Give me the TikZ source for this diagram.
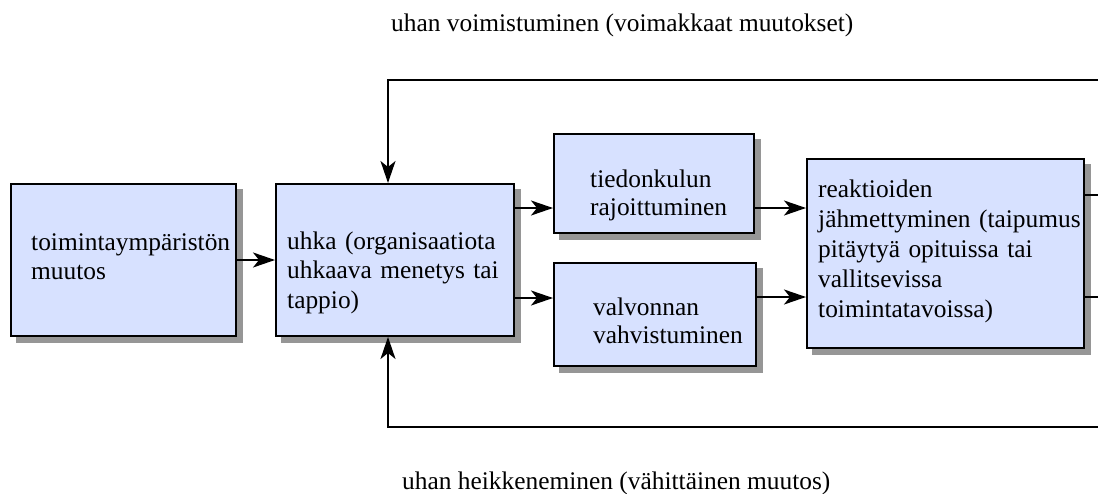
\documentclass[tikz,border=0pt]{standalone}
\usepackage{fontspec}
\setmainfont{Liberation Serif}
\usetikzlibrary{arrows.meta}
\definecolor{boxfill}{RGB}{215,225,255}
\definecolor{shadowgray}{RGB}{150,150,150}
\begin{document}
\begin{tikzpicture}[x=1pt,y=-1pt,
  box/.style={draw=black, line width=2pt, fill=boxfill, anchor=north west, inner sep=0pt,
    preaction={fill=shadowgray, draw=shadowgray, transform canvas={shift={(5.5pt,-5.5pt)}}}},
  txt/.style={anchor=base west, align=left, text width=300pt, inner sep=0pt,
    font=\fontsize{25.4}{29}\selectfont},
  looplabel/.style={anchor=base west, inner sep=0pt, font=\fontsize{25.4}{29}\selectfont},
  conn/.style={line width=2pt, black},
  arr/.style={conn, -{Stealth[length=22pt, width=15pt, inset=6pt]}}]
\useasboundingbox (0,0) rectangle (1098,493);

% boxes
\node[box, minimum width=225pt, minimum height=152pt] (b1) at (10,183) {};
\node[box, minimum width=238pt, minimum height=152pt] (b2) at (275,183) {};
\node[box, minimum width=200pt, minimum height=99pt]  (b3) at (553,133) {};
\node[box, minimum width=202pt, minimum height=103pt] (b4) at (553,262) {};
\node[box, minimum width=277pt, minimum height=189pt] (b5) at (806,158) {};

% box texts
\node[txt] (t1) at (31,250) {toimintaympäristön\\muutos};
\node[txt, font=\fontsize{25.4}{29.5}\selectfont] (t2) at (287,249) {uhka (organisaatiota\\uhkaava menetys tai\\tappio)};
\node[txt, font=\fontsize{25.4}{28}\selectfont] (t3) at (590,187) {tiedonkulun\\rajoittuminen};
\node[txt, font=\fontsize{25.4}{28}\selectfont] (t4) at (593,315) {valvonnan\\vahvistuminen};
\node[txt, font=\fontsize{25.4}{30}\selectfont] (t5) at (818,197) {reaktioiden\\jähmettyminen (taipumus\\pitäytyä opituissa tai\\vallitsevissa\\toimintatavoissa)};

% feedback labels
\node[looplabel] (top) at (391,31) {uhan voimistuminen (voimakkaat muutokset)};
\node[looplabel] (bot) at (402,489) {uhan heikkeneminen (vähittäinen muutos)};

% forward arrows
\draw[arr] (b1) -- (b2);
\draw[arr] (b2.east |- 0,208) -- (b3.west |- 0,208);
\draw[arr] (b2.east |- 0,298) -- (b4.west |- 0,298);
\draw[arr] (b3.east |- 0,208) -- (b5.west |- 0,208);
\draw[arr] (b4.east |- 0,297) -- (b5.west |- 0,297);

% lines leaving the last box
\coordinate (r1) at (1098,195);
\coordinate (r2) at (1098,297);
\draw[conn] (b5.east |- r1) -- (r1);
\draw[conn] (b5.east |- r2) -- (r2);

% feedback loops
\coordinate (fbtop) at (1098,80);
\coordinate (fbbot) at (1098,427);
\draw[arr] (fbtop) -- (388,80) -- (b2.north -| 388,0);
\draw[arr] (fbbot) -- (388,427) -- (b2.south -| 388,0);
\end{tikzpicture}
\end{document}
